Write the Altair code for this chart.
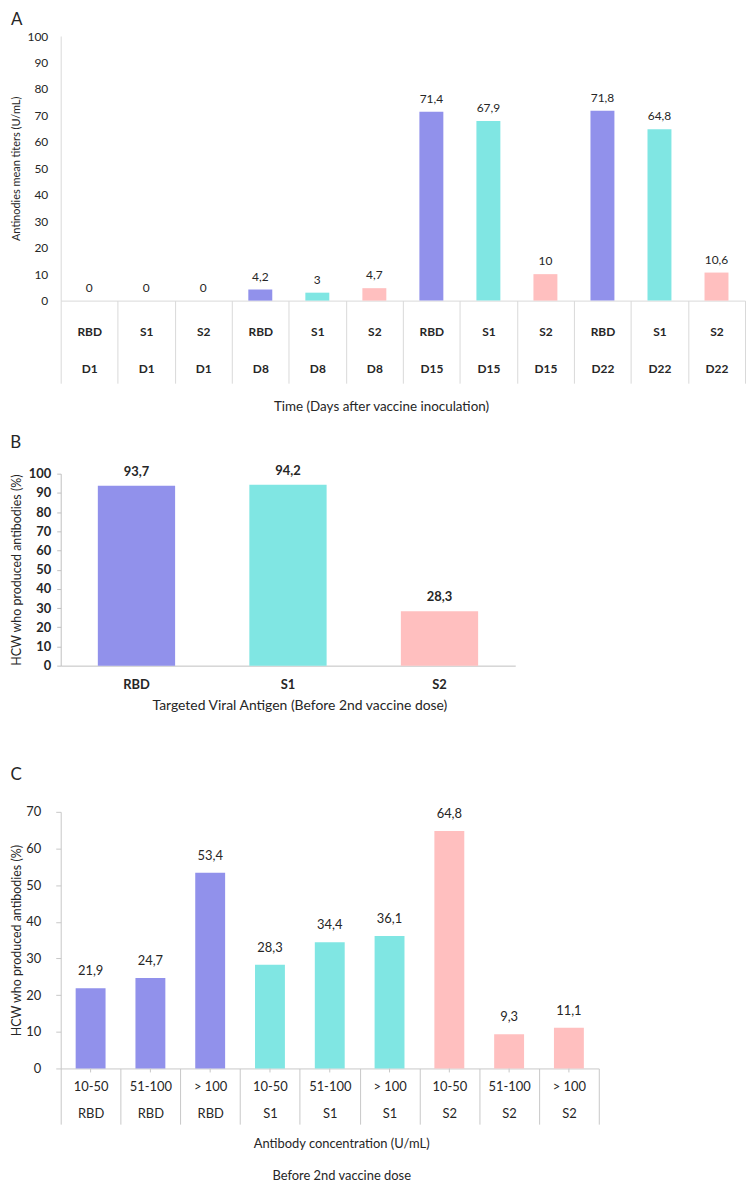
import altair as alt
import pandas as pd

FONT = "Lato"

# ---- data ----
antigens = ["RBD", "S1", "S2"]
colors = ["#9191EB", "#80E6E3", "#FFBFBF"]

a_antigen = ["RBD", "S1", "S2", "RBD", "S1", "S2", "RBD", "S1", "S2", "RBD", "S1", "S2"]
a_day = ["D1", "D1", "D1", "D8", "D8", "D8", "D15", "D15", "D15", "D22", "D22", "D22"]
a_values = [0, 0, 0, 4.2, 3, 4.7, 71.4, 67.9, 10, 71.8, 64.8, 10.6]

b_antigen = ["RBD", "S1", "S2"]
b_values = [93.7, 94.2, 28.3]

c_antigen = ["RBD", "RBD", "RBD", "S1", "S1", "S1", "S2", "S2", "S2"]
c_range = ["10-50", "51-100", "> 100", "10-50", "51-100", "> 100", "10-50", "51-100", "> 100"]
c_values = [21.9, 24.7, 53.4, 28.3, 34.4, 36.1, 64.8, 9.3, 11.1]

a_ticks = list(range(0, 101, 10))
b_ticks = list(range(0, 101, 10))
c_ticks = list(range(0, 71, 10))


def fmt(v):
    return f"{v:g}".replace(".", ",")


color_enc = alt.Color("antigen:N", scale=alt.Scale(domain=antigens, range=colors), legend=None)
GRAY = "#d9d9d9"
CGRAY = "#c8c8c8"
TXT = "#262626"
SPLIT = "isValid(datum.value) ? split(datum.value, '|') : ''"

# ---- panel A ----
dfa = pd.DataFrame({
    "key": [f"{a}|{d}" for a, d in zip(a_antigen, a_day)],
    "antigen": a_antigen,
    "value": a_values,
    "label": [fmt(v) for v in a_values],
})
xa = alt.X("key:N", sort=list(dfa["key"]),
           scale=alt.Scale(paddingInner=0, paddingOuter=0),
           axis=alt.Axis(title="Time (Days after vaccine inoculation)", labelAngle=0,
                         labelExpr=SPLIT, labelBaseline="middle",
                         labelLineHeight=37, labelPadding=-52, labelFontWeight="bold",
                         labelFontSize=12, tickBand="extent", ticks=True, tickSize=83,
                         tickColor=GRAY, domainColor=GRAY, labelOverlap=False,
                         minExtent=83, maxExtent=83, titlePadding=16, titleFontSize=13.5,
                         titleX=322))
ya = alt.Y("value:Q", scale=alt.Scale(domain=[0, 100]),
           axis=alt.Axis(values=a_ticks, title="Antinodies mean titers (U/mL)", grid=False,
                         ticks=False, domainColor=GRAY, labelPadding=13, minExtent=30,
                         maxExtent=30, titlePadding=9, titleFontSize=11, labelFontSize=12))
bars_a = alt.Chart(dfa).mark_bar(width={"band": 0.42}).encode(x=xa, y=ya, color=color_enc)
text_a = alt.Chart(dfa).mark_text(baseline="bottom", dy=-6, fontSize=12, color=TXT).encode(
    x=xa, y=ya, text="label:N")
chart_a = alt.layer(bars_a, text_a).properties(
    width=688, height=266,
    title=alt.TitleParams("A", anchor="start", frame="bounds", fontSize=17,
                          fontWeight="normal", offset=1))

# ---- panel B ----
dfb = pd.DataFrame({"antigen": b_antigen, "value": b_values,
                    "label": [fmt(v) for v in b_values]})
xb = alt.X("antigen:N", sort=b_antigen, scale=alt.Scale(paddingInner=0, paddingOuter=0),
           axis=alt.Axis(title="Targeted  Viral Antigen (Before  2nd vaccine dose)", labelAngle=0,
                         ticks=False, labelPadding=12.5, labelFontWeight="bold",
                         labelFontSize=13, domainColor="#bfbfbf", minExtent=24,
                         maxExtent=24, titlePadding=9.5, titleFontSize=14, titleX=240))
yb = alt.Y("value:Q", scale=alt.Scale(domain=[0, 100]),
           axis=alt.Axis(values=b_ticks, title="HCW who produced antibodies (%)", grid=False,
                         ticks=True, tickSize=4, tickColor="#bfbfbf", domainColor="#bfbfbf",
                         labelPadding=6, labelFontWeight="bold", labelFontSize=13,
                         minExtent=28, maxExtent=28, titlePadding=9.75, titleFontSize=12.5))
bars_b = alt.Chart(dfb).mark_bar(width={"band": 0.51}).encode(x=xb, y=yb, color=color_enc)
text_b = alt.Chart(dfb).mark_text(baseline="bottom", dy=-7, fontSize=13, fontWeight="bold",
                                  color=TXT).encode(x=xb, y=yb, text="label:N")
chart_b = alt.layer(bars_b, text_b).properties(
    width=457, height=193,
    title=alt.TitleParams("B", anchor="start", frame="bounds", fontSize=17,
                          fontWeight="normal", offset=13))

# ---- panel C ----
C_H = 258
dfc = pd.DataFrame({
    "key": [f"{r}|{a}" for r, a in zip(c_range, c_antigen)],
    "antigen": c_antigen,
    "value": c_values,
    "label": [fmt(v) for v in c_values],
})
xc = alt.X("key:N", sort=list(dfc["key"]),
           scale=alt.Scale(paddingInner=0, paddingOuter=0),
           axis=alt.Axis(title=["Antibody concentration (U/mL)", "Before  2nd vaccine dose"],
                         titleLineHeight=32, labelAngle=0,
                         labelExpr=SPLIT, labelBaseline="middle",
                         labelLineHeight=27, labelPadding=-38, labelFontSize=13,
                         tickBand="extent", ticks=True, tickSize=56, tickColor=CGRAY,
                         domainColor=CGRAY, labelOverlap=False, minExtent=56,
                         maxExtent=56, titlePadding=13.5, titleFontSize=13, titleX=282))
yc = alt.Y("value:Q", scale=alt.Scale(domain=[0, 70]),
           axis=alt.Axis(values=c_ticks, title="HCW who produced antibodies (%)", grid=False,
                         ticks=True, tickSize=5, tickColor=CGRAY, domainColor=CGRAY,
                         labelPadding=15, labelFontSize=13, minExtent=28, maxExtent=28,
                         titlePadding=9.5, titleFontSize=12.5))
bars_c = alt.Chart(dfc).mark_bar(width={"band": 0.5}).encode(x=xc, y=yc, color=color_enc)
text_c = alt.Chart(dfc).mark_text(baseline="bottom", dy=-10, fontSize=13, color=TXT).encode(
    x=xc, y=yc, text="label:N")
center_ticks_c = alt.Chart(dfc).mark_rule(color=CGRAY).encode(
    x=xc, y=alt.value(C_H), y2=alt.value(C_H + 4))
chart_c = alt.layer(bars_c, text_c, center_ticks_c).properties(
    width=541, height=C_H,
    title=alt.TitleParams("C", anchor="start", frame="bounds", fontSize=17,
                          fontWeight="normal", offset=22))

inner = alt.concat(chart_b, chart_c, columns=1, spacing=53, align="none")
chart = alt.concat(chart_a, inner, columns=1, spacing=21, align="none").properties(
    padding={"left": 2, "top": 0, "right": 0, "bottom": 0}
).configure(font=FONT).configure_view(stroke=None).configure_axis(
    labelColor=TXT, titleColor=TXT, titleFontWeight="normal", labelFont=FONT, titleFont=FONT
).configure_title(color=TXT, font=FONT)

chart.save("out.html", embed_options={"renderer": "svg", "actions": False})
